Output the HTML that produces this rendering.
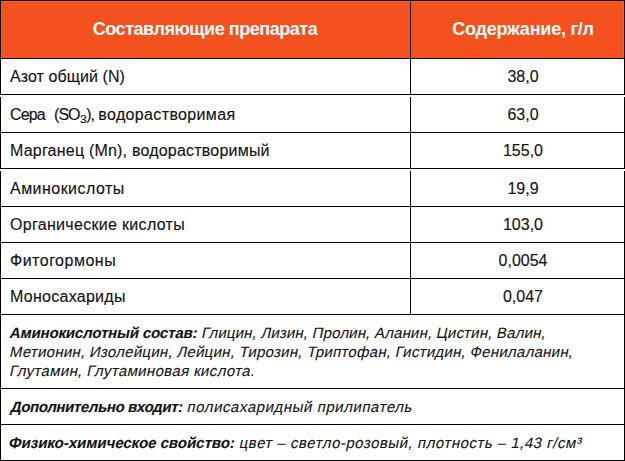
<!DOCTYPE html>
<html><head><meta charset="utf-8"><style>
*{margin:0;padding:0;box-sizing:border-box}
html,body{width:625px;height:461px;background:#fff;overflow:hidden}
body{position:relative;font-family:"Liberation Sans",Arial,sans-serif;color:#141414}
.h{position:absolute;left:0;width:625px;height:1px;background:#000}
.v{position:absolute;width:1px;background:#000}
.hd{position:absolute;left:0;top:0;width:625px;height:58px;background:#F4511E}
.t{position:absolute;white-space:nowrap;font-size:16px;line-height:20px;-webkit-text-stroke:0.15px #141414}
.c{text-align:center}
.th{position:absolute;white-space:nowrap;font-size:18px;line-height:20px;font-weight:bold;color:#fff;text-align:center}
.i{position:absolute;white-space:nowrap;font-size:15px;line-height:19px;transform:skewX(-12deg);transform-origin:0 15px;-webkit-text-stroke:0.1px #141414}
.i b{font-weight:bold}
.sub{font-size:11px;position:relative;top:3px}
.sup{font-size:10px;position:relative;top:-6px}
</style></head><body>
<div class="hd"></div>

<div class="h" style="top:0px"></div>
<div class="h" style="top:58px"></div>
<div class="h" style="top:94px"></div>
<div class="h" style="top:132px"></div>
<div class="h" style="top:168px"></div>
<div class="h" style="top:206px"></div>
<div class="h" style="top:242px"></div>
<div class="h" style="top:278px"></div>
<div class="h" style="top:314px"></div>
<div class="h" style="top:388px"></div>
<div class="h" style="top:424px"></div>
<div class="h" style="top:460px"></div>
<div class="h" style="position:absolute;left:1px;top:0;width:623px;height:1px;background:#260000"></div>
<div class="h" style="position:absolute;left:0;top:0;width:1px;height:58px;background:#200000"></div>
<div class="h" style="position:absolute;left:624px;top:0;width:1px;height:58px;background:#200000"></div>
<div class="h" style="position:absolute;left:410px;top:0;width:1px;height:58px;background:#200000"></div>
<div class="h" style="position:absolute;left:1px;top:1px;width:623px;height:1px;background:#dc6a40"></div>
<div class="h" style="position:absolute;left:1px;top:1px;width:1px;height:57px;background:#dc6a40"></div>
<div class="h" style="position:absolute;left:623px;top:1px;width:1px;height:57px;background:#e06a40"></div>
<div class="v" style="left:0px;top:0px;height:95px"></div>
<div class="v" style="left:0px;top:97px;height:72px"></div>
<div class="v" style="left:0px;top:171px;height:290px"></div>
<div class="v" style="left:624px;top:0px;height:95px"></div>
<div class="v" style="left:624px;top:97px;height:72px"></div>
<div class="v" style="left:624px;top:171px;height:290px"></div>
<div class="v" style="left:410px;top:0px;height:95px"></div>
<div class="v" style="left:410px;top:97px;height:72px"></div>
<div class="v" style="left:410px;top:171px;height:144px"></div>
<div id="H1" class="th" style="left:0px;top:19px;width:410px;letter-spacing:-0.459px">Составляющие препарата</div>
<div id="H2" class="th" style="left:423px;top:19px;width:200px;letter-spacing:-0.222px">Содержание, г/л</div>
<div id="R1" class="t" style="left:10px;top:67px;letter-spacing:0.076px">Азот общий (N)</div>
<div id="V1" class="t c" style="left:423px;top:67px;width:200px">38,0</div>
<div id="R2a" class="t" style="left:10px;top:105px;letter-spacing:-0.832px">Сера</div>
<div id="R2b" class="t" style="left:54.1px;top:105px;letter-spacing:-1.039px">(SO<span style="font-size:19px;line-height:0;position:relative;top:1px">₃</span>),</div>
<div id="R2c" class="t" style="left:98.3px;top:105px;letter-spacing:0.357px">водорастворимая</div>
<div id="V2" class="t c" style="left:423px;top:105px;width:200px">63,0</div>
<div id="R3" class="t" style="left:10px;top:141px;letter-spacing:0.208px">Марганец (Mn), водорастворимый</div>
<div id="V3" class="t c" style="left:423px;top:141px;width:200px">155,0</div>
<div id="R4" class="t" style="left:10px;top:179px;letter-spacing:0.461px">Аминокислоты</div>
<div id="V4" class="t c" style="left:423px;top:179px;width:200px">19,9</div>
<div id="R5" class="t" style="left:10px;top:215px;letter-spacing:0.309px">Органические кислоты</div>
<div id="V5" class="t c" style="left:423px;top:215px;width:200px">103,0</div>
<div id="R6" class="t" style="left:10px;top:251px;letter-spacing:0.498px">Фитогормоны</div>
<div id="V6" class="t c" style="left:423px;top:251px;width:200px">0,0054</div>
<div id="R7" class="t" style="left:10px;top:287px;letter-spacing:0.27px">Моносахариды</div>
<div id="V7" class="t c" style="left:423px;top:287px;width:200px">0,047</div>
<div id="I1" class="i" style="left:9.4px;top:323px"><b style="letter-spacing:-0.14px">Аминокислотный состав:</b><span class=r style="letter-spacing:0.176px"> Глицин, Лизин, Пролин, Аланин, Цистин, Валин,</span></div>
<div id="I2" class="i" style="left:9.4px;top:342px;letter-spacing:0.264px">Метионин, Изолейцин, Лейцин, Тирозин, Триптофан, Гистидин, Фенилаланин,</div>
<div id="I3" class="i" style="left:9.4px;top:361px;letter-spacing:0.346px">Глутамин, Глутаминовая кислота.</div>
<div id="D" class="i" style="left:10px;top:397px"><b style="letter-spacing:-0.376px">Дополнительно входит:</b><span class=r style="letter-spacing:0.55px"> полисахаридный прилипатель</span></div>
<div id="F" class="i" style="left:8px;top:433px"><b style="letter-spacing:-0.028px">Физико-химическое свойство:</b><span class=r style="letter-spacing:0.5px"> цвет – светло-розовый, плотность – 1,43 г/см³</span></div>
</body></html>
